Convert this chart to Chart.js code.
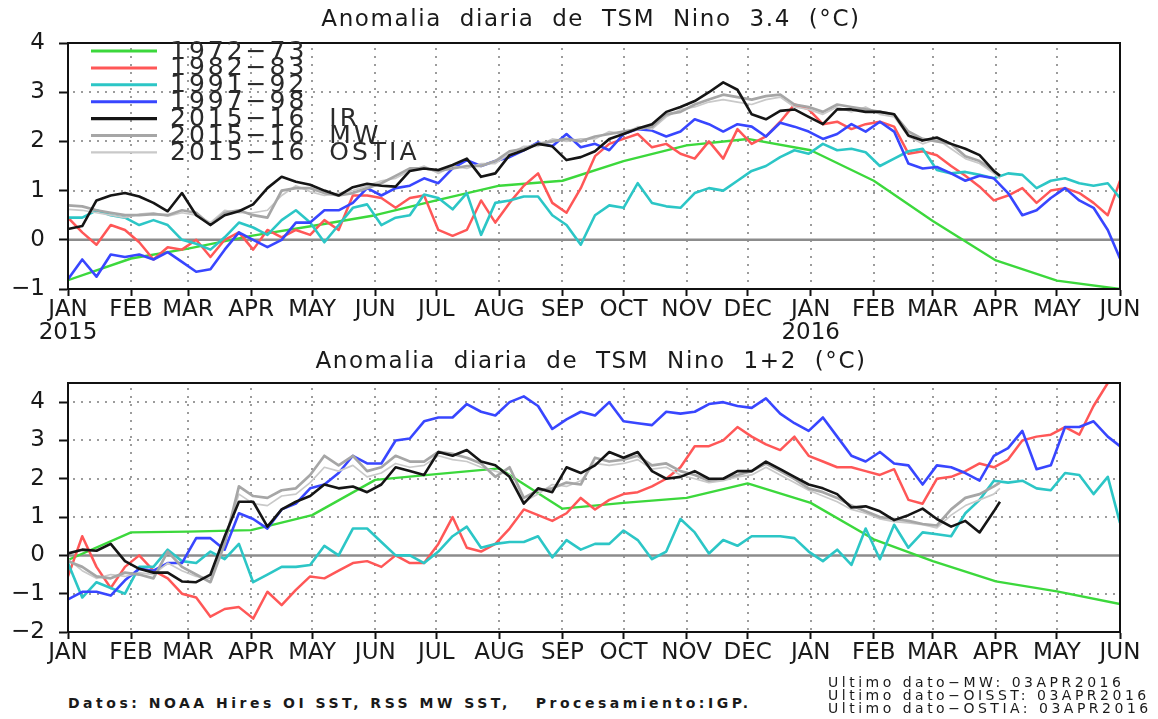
<!DOCTYPE html>
<html>
<head>
<meta charset="utf-8">
<script src="https://cdn.jsdelivr.net/npm/chart.js@4.4.1/dist/chart.umd.min.js"></script>
<style>
  html, body { margin: 0; padding: 0; background: #fff; }
  body { width: 1158px; height: 719px; position: relative; overflow: hidden; color: #1a1a1a;
         font-family: "DejaVu Sans", sans-serif; }
  canvas { position: absolute; left: 0; }
  .title { position: absolute; left: 24px; width: 1134px; text-align: center; white-space: pre;
           font-size: 23px; line-height: 26px; letter-spacing: 1.6px; z-index: 2; }
  .foot { position: absolute; white-space: pre; z-index: 2; }
  .src { font-size: 14px; line-height: 14px; font-weight: bold; letter-spacing: 3.5px; }
  .last { font-size: 14px; line-height: 13px; letter-spacing: 3.5px; }
</style>
</head>
<body>
<div class="title" style="top:5px">Anomalia  diaria  de  TSM  Nino  3.4  (°C)</div>
<canvas id="nino34" width="1158" height="345" style="top:0"></canvas>
<div class="title" style="top:347px">Anomalia  diaria  de  TSM  Nino  1+2  (°C)</div>
<canvas id="nino12" width="1158" height="330" style="top:345px"></canvas>
<div class="foot src" style="left:68px; top:696px">Datos: NOAA Hires OI SST, RSS MW SST,   Procesamiento:IGP.</div>
<div class="foot last" style="left:828px; top:676px">Ultimo dato−MW: 03APR2016
Ultimo dato−OISST: 03APR2016
Ultimo dato−OSTIA: 03APR2016</div>

<script>
// eje x en dias desde 1 ene 2015
const monthDays = [0, 31, 59, 90, 120, 151, 181, 212, 243, 273, 304, 334, 365, 396, 425, 456, 486, 517];
const monthLabels = ["JAN", "FEB", "MAR", "APR", "MAY", "JUN", "JUL", "AUG", "SEP", "OCT", "NOV", "DEC",
                     "JAN", "FEB", "MAR", "APR", "MAY", "JUN"];
const yearTicks = [0, 365];
const yearText = ["2015", "2016"];

// muestreo semanal (eventos historicos hasta 1 jun, 2015-16 hasta 3 abr)
const weekDays = [0, 7, 14, 21, 28, 35, 42, 49, 56, 63, 70, 77, 84, 91, 98, 105, 112, 119, 126, 133, 140,
  147, 154, 161, 168, 175, 182, 189, 196, 203, 210, 217, 224, 231, 238, 245, 252, 259, 266, 273, 280,
  287, 294, 301, 308, 315, 322, 329, 336, 343, 350, 357, 364, 371, 378, 385, 392, 399, 406, 413, 420,
  427, 434, 441, 448, 455, 462, 469, 476, 483, 490, 497, 504, 511, 517];
const recentDays = [0, 7, 14, 21, 28, 35, 42, 49, 56, 63, 70, 77, 84, 91, 98, 105, 112, 119, 126, 133, 140,
  147, 154, 161, 168, 175, 182, 189, 196, 203, 210, 217, 224, 231, 238, 245, 252, 259, 266, 273, 280,
  287, 294, 301, 308, 315, 322, 329, 336, 343, 350, 357, 364, 371, 378, 385, 392, 399, 406, 413, 420,
  427, 434, 441, 448, 455, 458];

const seriesNames = ["1972\u221273", "1982\u221283", "1991\u221292", "1997\u221298",
                     "2015\u221216  IR", "2015\u221216  MW", "2015\u221216  OSTIA"];

// ---- Nino 3.4 ----
const n34_1972 = [-0.82, -0.38, -0.18, 0.08, 0.28, 0.5, 0.8, 1.1, 1.2, 1.6, 1.92, 2.05, 1.82, 1.2, 0.38, -0.42, -0.83, -1.0];
const n34_1982 = [0.45, 0.15, -0.1, 0.3, 0.2, -0.05, -0.4, -0.15, -0.2, 0.0, -0.35, 0.0, 0.15, -0.2, 0.2, 0.05, 0.2, 0.1, 0.4, 0.2, 0.9, 0.9, 0.85, 0.65, 0.85,
  0.9, 0.2, 0.08, 0.2, 0.8, 0.35, 0.75, 1.1, 1.35, 0.75, 0.55, 1.05, 1.7, 1.95, 2.05, 2.15, 1.88, 1.95, 1.75, 1.65, 2.0, 1.65, 2.25, 1.95,
  2.1, 2.4, 2.75, 2.65, 2.35, 2.4, 2.25, 2.35, 2.4, 2.3, 1.75, 1.8, 1.72, 1.5, 1.3, 1.08, 0.8, 0.9, 1.05, 0.75, 1.0, 1.05, 0.95, 0.75, 0.5, 1.2];
const n34_1991 = [0.45, 0.45, 0.6, 0.5, 0.45, 0.3, 0.4, 0.3, 0.0, -0.08, -0.2, 0.05, 0.35, 0.25, 0.1, 0.4, 0.6, 0.35, -0.05, 0.3, 0.65, 0.72, 0.3, 0.45, 0.5,
  0.92, 0.85, 0.62, 0.95, 0.1, 0.75, 0.8, 0.88, 0.88, 0.5, 0.3, -0.1, 0.5, 0.7, 0.65, 1.15, 0.75, 0.68, 0.65, 0.95, 1.05, 1.0, 1.2, 1.4,
  1.5, 1.68, 1.82, 1.75, 1.95, 1.82, 1.85, 1.78, 1.5, 1.65, 1.8, 1.85, 1.42, 1.35, 1.38, 1.32, 1.25, 1.35, 1.32, 1.05, 1.2, 1.25, 1.15, 1.1, 1.15, 0.85];
const n34_1997 = [-0.8, -0.4, -0.75, -0.3, -0.35, -0.3, -0.4, -0.25, -0.45, -0.65, -0.6, -0.2, 0.15, 0.0, -0.15, 0.0, 0.35, 0.35, 0.6, 0.6, 0.75, 1.05, 0.9, 1.05, 1.1,
  1.25, 1.15, 1.45, 1.62, 1.5, 1.6, 1.68, 1.82, 1.98, 1.9, 2.15, 1.88, 1.95, 1.82, 2.15, 2.25, 2.22, 2.1, 2.2, 2.45, 2.35, 2.2, 2.35, 2.3,
  2.1, 2.38, 2.3, 2.2, 2.05, 2.15, 2.35, 2.2, 2.4, 2.2, 1.55, 1.45, 1.48, 1.35, 1.2, 1.3, 1.25, 0.95, 0.5, 0.6, 0.85, 1.05, 0.8, 0.65, 0.2, -0.38];
const n34_ir = [0.22, 0.28, 0.8, 0.9, 0.95, 0.88, 0.75, 0.58, 0.95, 0.5, 0.3, 0.5, 0.58, 0.72, 1.05, 1.28, 1.18, 1.12, 1.0, 0.9, 1.07, 1.14, 1.1, 1.08, 1.4,
  1.45, 1.42, 1.52, 1.65, 1.28, 1.35, 1.72, 1.82, 1.95, 1.9, 1.62, 1.68, 1.8, 2.05, 2.15, 2.26, 2.35, 2.6, 2.7, 2.82, 3.0, 3.2, 3.05, 2.55,
  2.45, 2.62, 2.65, 2.5, 2.35, 2.65, 2.65, 2.6, 2.6, 2.55, 2.12, 2.02, 2.08, 1.95, 1.85, 1.72, 1.4, 1.3];
const n34_mw = [0.7, 0.68, 0.6, 0.55, 0.5, 0.5, 0.52, 0.5, 0.6, 0.55, 0.3, 0.55, 0.6, 0.5, 0.45, 1.0, 1.05, 1.05, 0.95, 0.9, 0.95, 1.05, 1.15, 1.3, 1.45,
  1.45, 1.4, 1.45, 1.5, 1.5, 1.6, 1.8, 1.85, 1.95, 2.0, 2.05, 2.0, 2.1, 2.15, 2.2, 2.25, 2.3, 2.55, 2.6, 2.75, 2.85, 2.95, 2.9, 2.85,
  2.92, 2.95, 2.75, 2.7, 2.6, 2.75, 2.7, 2.65, 2.6, 2.55, 2.2, 2.05, 2.0, 1.95, 1.7, 1.6, 1.4, 1.3];
const n34_ostia = [0.62, 0.6, 0.55, 0.5, 0.45, 0.52, 0.55, 0.48, 0.55, 0.5, 0.35, 0.6, 0.55, 0.55, 0.6, 0.9, 1.1, 0.98, 0.9, 0.95, 1.0, 1.1, 1.2, 1.25, 1.4,
  1.5, 1.35, 1.5, 1.45, 1.55, 1.55, 1.75, 1.9, 1.9, 2.05, 2.0, 2.05, 2.05, 2.2, 2.15, 2.3, 2.25, 2.5, 2.65, 2.7, 2.8, 2.85, 2.8, 2.75,
  2.85, 2.9, 2.7, 2.65, 2.55, 2.7, 2.6, 2.7, 2.55, 2.5, 2.1, 1.95, 2.05, 1.85, 1.65, 1.55, 1.35, 1.25];

// ---- Nino 1+2 ----
const n12_1972 = [-0.12, 0.6, 0.62, 0.66, 1.05, 1.97, 2.12, 2.27, 1.22, 1.37, 1.5, 1.88, 1.37, 0.42, -0.15, -0.68, -0.94, -1.27];
const n12_1982 = [-0.55, 0.5, -0.3, -0.85, -0.3, 0.0, -0.4, -0.6, -1.0, -1.1, -1.6, -1.4, -1.35, -1.65, -0.95, -1.3, -0.9, -0.55, -0.6, -0.4, -0.2, -0.15, -0.3, 0.0, -0.2,
  -0.2, 0.3, 1.0, 0.2, 0.1, 0.3, 0.7, 1.2, 1.05, 0.9, 1.1, 1.5, 1.2, 1.45, 1.6, 1.65, 1.8, 2.0, 2.3, 2.85, 2.85, 3.0, 3.35, 3.1,
  2.9, 2.75, 3.1, 2.6, 2.45, 2.3, 2.3, 2.2, 2.1, 2.25, 1.45, 1.35, 2.0, 2.05, 2.2, 2.4, 2.3, 2.5, 3.0, 3.1, 3.15, 3.35, 3.15, 3.9, 4.5, 4.55];
const n12_1991 = [-0.2, -1.1, -0.7, -0.85, -1.0, -0.3, -0.3, 0.15, -0.15, -0.2, 0.1, -0.1, 0.3, -0.7, -0.5, -0.3, -0.3, -0.25, 0.25, 0.0, 0.7, 0.7, 0.35, 0.0, 0.0,
  -0.2, 0.1, 0.5, 0.75, 0.2, 0.3, 0.35, 0.35, 0.5, -0.05, 0.4, 0.15, 0.3, 0.3, 0.65, 0.4, -0.1, 0.1, 0.95, 0.6, 0.05, 0.4, 0.25, 0.5,
  0.5, 0.5, 0.45, 0.1, -0.15, 0.15, -0.25, 0.7, -0.1, 0.8, 0.2, 0.6, 0.55, 0.5, 1.1, 1.45, 1.95, 1.9, 1.95, 1.75, 1.7, 2.15, 2.1, 1.6, 2.05, 0.85];
const n12_1997 = [-1.15, -0.95, -0.95, -1.05, -0.65, -0.35, -0.4, -0.2, -0.2, 0.45, 0.45, 0.15, 1.1, 0.95, 0.7, 1.2, 1.35, 1.75, 1.85, 2.15, 2.6, 2.4, 2.4, 3.0, 3.05,
  3.5, 3.6, 3.6, 3.95, 3.75, 3.65, 4.0, 4.15, 3.9, 3.3, 3.55, 3.75, 3.65, 4.0, 3.5, 3.45, 3.4, 3.75, 3.7, 3.75, 3.95, 4.0, 3.9, 3.85,
  4.1, 3.7, 3.45, 3.25, 3.6, 3.1, 2.6, 2.45, 2.7, 2.4, 2.35, 1.85, 2.35, 2.3, 2.15, 1.95, 2.6, 2.8, 3.25, 2.25, 2.35, 3.35, 3.35, 3.5, 3.1, 2.85];
const n12_ir = [0.05, 0.15, 0.12, 0.3, -0.15, -0.35, -0.45, -0.45, -0.68, -0.7, -0.5, 0.5, 1.4, 1.4, 0.75, 1.2, 1.4, 1.55, 1.85, 1.75, 1.8, 1.65, 1.85, 2.3, 2.2,
  2.1, 2.7, 2.6, 2.75, 2.45, 2.35, 2.05, 1.35, 1.75, 1.65, 2.3, 2.15, 2.35, 2.7, 2.55, 2.7, 2.2, 2.0, 2.05, 2.2, 2.0, 2.0, 2.2, 2.2,
  2.45, 2.25, 2.05, 1.85, 1.75, 1.6, 1.25, 1.28, 1.15, 0.92, 1.05, 1.22, 0.95, 0.75, 0.9, 0.6, 1.15, 1.4];
const n12_mw = [-0.15, -0.3, -0.55, -0.6, -0.45, -0.5, -0.6, 0.1, -0.3, -0.5, -0.7, 0.3, 1.8, 1.55, 1.5, 1.7, 1.75, 2.1, 2.6, 2.35, 2.6, 2.2, 2.3, 2.6, 2.45,
  2.45, 2.7, 2.65, 2.55, 2.4, 2.05, 2.3, 1.5, 1.7, 1.75, 1.9, 1.85, 2.55, 2.45, 2.5, 2.6, 2.35, 2.4, 2.2, 2.1, 1.95, 2.0, 2.1, 2.2,
  2.4, 2.2, 2.0, 1.75, 1.65, 1.5, 1.3, 1.15, 1.0, 0.95, 0.9, 0.82, 0.78, 1.2, 1.5, 1.6, 1.8, 1.9];
const n12_ostia = [-0.1, -0.4, -0.6, -0.5, -0.55, -0.45, -0.5, -0.2, -0.4, -0.55, -0.6, 0.4, 1.6, 1.35, 1.3, 1.55, 1.6, 1.9, 2.3, 2.2, 2.35, 2.05, 2.15, 2.4, 2.3,
  2.35, 2.6, 2.5, 2.45, 2.3, 2.2, 2.1, 1.4, 1.6, 1.85, 1.8, 1.95, 2.4, 2.35, 2.4, 2.5, 2.25, 2.3, 2.1, 2.0, 1.9, 1.95, 2.05, 2.1,
  2.3, 2.1, 1.9, 1.7, 1.55, 1.4, 1.2, 1.1, 0.95, 0.88, 0.85, 0.8, 0.72, 1.05, 1.3, 1.45, 1.6, 1.75];

// estilos de las series (mismo orden que seriesNames)
const seriesColors = ["#3cd83c", "#ff5757", "#2cc6c6", "#3846ff", "#151515", "#a6a6a6", "#c9c9c9"];
const seriesWidths = [2.4, 2.5, 2.6, 2.6, 2.6, 2.7, 1.7];
const seriesOrder = [7, 6, 5, 4, 1, 2, 3];

const tickFont = { family: '"DejaVu Sans", sans-serif', size: 23, lineHeight: 1.0 };

function pts(xs, ys) {
  return ys.map((y, i) => ({ x: xs[i], y: y }));
}

function minusLabel(v) {
  return v < 0 ? "\u2212" + Math.abs(v) : String(v);
}

// rejilla punteada en cada mes y cada grado, linea de cero continua
const dotGridPlugin = {
  id: "dotGrid",
  beforeDatasetsDraw(chart) {
    const { ctx, chartArea: a, scales: { x, y } } = chart;
    ctx.save();
    ctx.fillStyle = "#9c9c9c";
    x.ticks.forEach((t) => {
      const px = Math.round(x.getPixelForValue(t.value));
      if (px <= a.left + 2 || px >= a.right - 2) return;
      for (let py = a.top + 5; py < a.bottom - 2; py += 8) ctx.fillRect(px - 1, py, 2, 2);
    });
    y.ticks.forEach((t) => {
      const py = Math.round(y.getPixelForValue(t.value));
      if (t.value === 0 || py <= a.top + 2 || py >= a.bottom - 2) return;
      for (let px = a.left + 5; px < a.right - 2; px += 8) ctx.fillRect(px, py - 1, 2, 2);
    });
    const zy = y.getPixelForValue(0);
    ctx.strokeStyle = "#8c8c8c";
    ctx.lineWidth = 2.5;
    ctx.beginPath();
    ctx.moveTo(a.left, zy);
    ctx.lineTo(a.right, zy);
    ctx.stroke();
    ctx.restore();
  },
};

const framePlugin = {
  id: "frame",
  afterDatasetsDraw(chart) {
    const { ctx, chartArea: a } = chart;
    ctx.save();
    ctx.strokeStyle = "#111";
    ctx.lineWidth = 2;
    ctx.strokeRect(a.left, a.top, a.right - a.left, a.bottom - a.top);
    ctx.restore();
  },
};

// leyenda dentro del grafico, texto grande y solapado como en el original
const keyPlugin = {
  id: "seriesKey",
  afterDraw(chart) {
    if (!chart.options.plugins.seriesKey.show) return;
    const ctx = chart.ctx;
    ctx.save();
    ctx.font = '25px "DejaVu Sans", sans-serif';
    ctx.letterSpacing = "3px";
    ctx.textBaseline = "middle";
    seriesNames.forEach((name, i) => {
      const y = 51 + i * 16.9;
      ctx.strokeStyle = seriesColors[i];
      ctx.lineWidth = seriesWidths[i] + 0.5;
      ctx.beginPath();
      ctx.moveTo(91, y);
      ctx.lineTo(157, y);
      ctx.stroke();
      ctx.fillStyle = "#2a2a2a";
      ctx.fillText(name, 170, y + 1);
    });
    ctx.restore();
  },
};

function makePanel(id, cfg) {
  const all = [
    pts(monthDays, cfg.s1972), pts(weekDays, cfg.s1982), pts(weekDays, cfg.s1991), pts(weekDays, cfg.s1997),
    pts(recentDays, cfg.ir), pts(recentDays, cfg.mw), pts(recentDays, cfg.ostia),
  ];
  const datasets = all.map((d, i) => ({
    label: seriesNames[i],
    data: d,
    borderColor: seriesColors[i],
    borderWidth: seriesWidths[i],
    order: seriesOrder[i],
    pointRadius: 0,
    tension: 0,
    borderJoinStyle: "round",
  }));

  const axisGrid = { drawOnChartArea: false, tickColor: "#111", tickWidth: 2 };

  return new Chart(document.getElementById(id), {
    type: "line",
    data: { datasets },
    options: {
      responsive: false,
      animation: false,
      events: [],
      layout: { padding: { left: 0, right: 38, top: cfg.top, bottom: 0 } },
      plugins: {
        legend: { display: false },
        tooltip: { enabled: false },
        seriesKey: { show: cfg.key },
      },
      scales: {
        x: {
          type: "linear",
          min: 0,
          max: 517,
          afterBuildTicks: (s) => { s.ticks = monthDays.map((v) => ({ value: v })); },
          afterFit: (s) => { s.height = cfg.xHeight; },
          ticks: {
            autoSkip: false,
            maxRotation: 0,
            minRotation: 0,
            padding: 3,
            color: "#1a1a1a",
            font: tickFont,
            callback: (v) => {
              const lab = monthLabels[monthDays.indexOf(v)];
              const j = yearTicks.indexOf(v);
              return cfg.years && j >= 0 ? [lab, yearText[j]] : lab;
            },
          },
          grid: Object.assign({ tickLength: 7 }, axisGrid),
          border: { color: "#111", width: 2 },
        },
        y: {
          min: cfg.yMin,
          max: cfg.yMax,
          afterFit: (s) => { s.width = 68; },
          ticks: {
            stepSize: 1,
            includeBounds: false,
            padding: 14,
            color: "#1a1a1a",
            font: tickFont,
            callback: minusLabel,
          },
          grid: Object.assign({ tickLength: 9 }, axisGrid),
          border: { color: "#111", width: 2 },
        },
      },
    },
    plugins: [dotGridPlugin, framePlugin, keyPlugin],
  });
}

makePanel("nino34", {
  s1972: n34_1972, s1982: n34_1982, s1991: n34_1991, s1997: n34_1997,
  ir: n34_ir, mw: n34_mw, ostia: n34_ostia,
  yMin: -1, yMax: 4, top: 43, xHeight: 56, years: true, key: true,
});

makePanel("nino12", {
  s1972: n12_1972, s1982: n12_1982, s1991: n12_1991, s1997: n12_1997,
  ir: n12_ir, mw: n12_mw, ostia: n12_ostia,
  yMin: -2, yMax: 4.5, top: 38, xHeight: 43, years: false, key: false,
});
</script>
</body>
</html>
